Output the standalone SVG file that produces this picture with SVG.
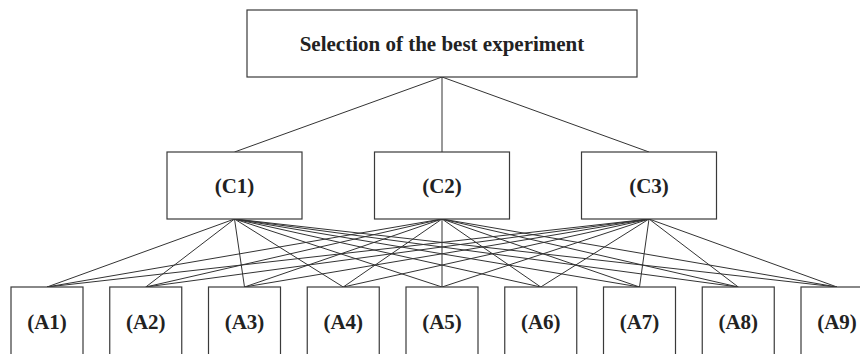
<svg xmlns="http://www.w3.org/2000/svg" width="860" height="354" viewBox="0 0 860 354">
<style>
.box{fill:#fff;stroke:#3a3a3a;stroke-width:1.2}
.lbl{font-family:"Liberation Serif","Times New Roman",serif;font-weight:bold;font-size:21px;fill:#222;text-anchor:middle}
.edge{stroke:#333;stroke-width:1;fill:none}
</style>
<rect width="860" height="354" fill="#fff"/>
<g id="connectors">
<line class="edge" x1="442" y1="77" x2="234.5" y2="152"/>
<line class="edge" x1="442" y1="77" x2="442" y2="152"/>
<line class="edge" x1="442" y1="77" x2="649" y2="152"/>
<g id="c1-links">
<line class="edge" x1="234.5" y1="219" x2="47" y2="287"/>
<line class="edge" x1="234.5" y1="219" x2="145.75" y2="287"/>
<line class="edge" x1="234.5" y1="219" x2="244.5" y2="287"/>
<line class="edge" x1="234.5" y1="219" x2="343.25" y2="287"/>
<line class="edge" x1="234.5" y1="219" x2="442" y2="287"/>
<line class="edge" x1="234.5" y1="219" x2="540.75" y2="287"/>
<line class="edge" x1="234.5" y1="219" x2="639.5" y2="287"/>
<line class="edge" x1="234.5" y1="219" x2="738.25" y2="287"/>
<line class="edge" x1="234.5" y1="219" x2="837" y2="287"/>
</g>
<g id="c2-links">
<line class="edge" x1="442" y1="219" x2="47" y2="287"/>
<line class="edge" x1="442" y1="219" x2="145.75" y2="287"/>
<line class="edge" x1="442" y1="219" x2="244.5" y2="287"/>
<line class="edge" x1="442" y1="219" x2="343.25" y2="287"/>
<line class="edge" x1="442" y1="219" x2="442" y2="287"/>
<line class="edge" x1="442" y1="219" x2="540.75" y2="287"/>
<line class="edge" x1="442" y1="219" x2="639.5" y2="287"/>
<line class="edge" x1="442" y1="219" x2="738.25" y2="287"/>
<line class="edge" x1="442" y1="219" x2="837" y2="287"/>
</g>
<g id="c3-links">
<line class="edge" x1="649" y1="219" x2="47" y2="287"/>
<line class="edge" x1="649" y1="219" x2="145.75" y2="287"/>
<line class="edge" x1="649" y1="219" x2="244.5" y2="287"/>
<line class="edge" x1="649" y1="219" x2="343.25" y2="287"/>
<line class="edge" x1="649" y1="219" x2="442" y2="287"/>
<line class="edge" x1="649" y1="219" x2="540.75" y2="287"/>
<line class="edge" x1="649" y1="219" x2="639.5" y2="287"/>
<line class="edge" x1="649" y1="219" x2="738.25" y2="287"/>
<line class="edge" x1="649" y1="219" x2="837" y2="287"/>
</g>
</g>
<g id="goal"><rect class="box" x="247" y="10" width="390" height="67"/><text class="lbl" x="442" y="51">Selection of the best experiment</text></g>
<g id="C1"><rect class="box" x="167" y="152" width="135" height="67"/><text class="lbl" x="234.5" y="193">(C1)</text></g>
<g id="C2"><rect class="box" x="374.5" y="152" width="135" height="67"/><text class="lbl" x="442" y="193">(C2)</text></g>
<g id="C3"><rect class="box" x="581.5" y="152" width="135" height="67"/><text class="lbl" x="649" y="193">(C3)</text></g>
<g id="A1"><rect class="box" x="11" y="287" width="72" height="80"/><text class="lbl" x="47" y="329">(A1)</text></g>
<g id="A2"><rect class="box" x="109.75" y="287" width="72" height="80"/><text class="lbl" x="145.75" y="329">(A2)</text></g>
<g id="A3"><rect class="box" x="208.5" y="287" width="72" height="80"/><text class="lbl" x="244.5" y="329">(A3)</text></g>
<g id="A4"><rect class="box" x="307.25" y="287" width="72" height="80"/><text class="lbl" x="343.25" y="329">(A4)</text></g>
<g id="A5"><rect class="box" x="406" y="287" width="72" height="80"/><text class="lbl" x="442" y="329">(A5)</text></g>
<g id="A6"><rect class="box" x="504.75" y="287" width="72" height="80"/><text class="lbl" x="540.75" y="329">(A6)</text></g>
<g id="A7"><rect class="box" x="603.5" y="287" width="72" height="80"/><text class="lbl" x="639.5" y="329">(A7)</text></g>
<g id="A8"><rect class="box" x="702.25" y="287" width="72" height="80"/><text class="lbl" x="738.25" y="329">(A8)</text></g>
<g id="A9"><rect class="box" x="801" y="287" width="72" height="80"/><text class="lbl" x="837" y="329">(A9)</text></g>
</svg>
